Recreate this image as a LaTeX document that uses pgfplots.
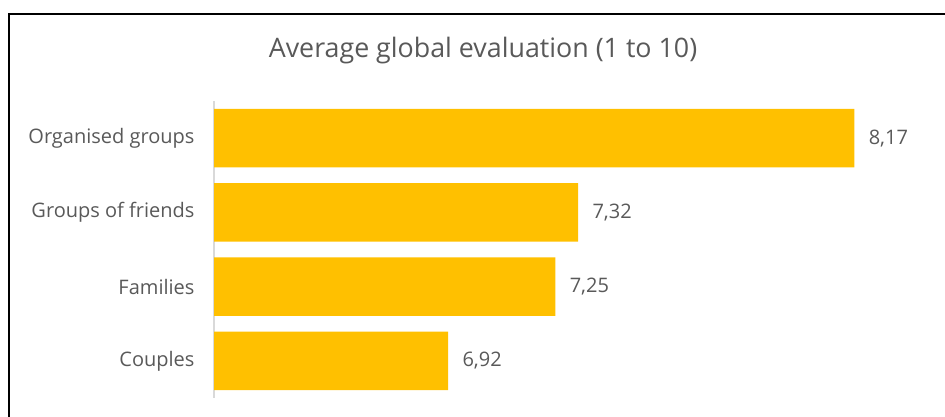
\documentclass[border=0pt]{standalone}
\usepackage{pgfplots}
\pgfplotsset{compat=1.18}
\usepackage{fontspec}
\setmainfont{Open Sans}
\definecolor{barc}{HTML}{FFC000}
\definecolor{txt}{HTML}{595959}
\definecolor{axl}{HTML}{D9D9D9}
\begin{document}
\begin{tikzpicture}
\useasboundingbox (0bp,0bp) rectangle (945bp,417bp);
\draw[line width=1.5bp,black] (8bp,403bp) -- (945bp,403bp);
\draw[line width=1.5bp,black] (9bp,403.75bp) -- (9bp,0bp);
\node[txt,font=\fontsize{26.8bp}{32bp}\selectfont] at (483bp,366bp) {Average global evaluation (1 to 10)};
\begin{axis}[
  at={(214bp,19bp)}, anchor=south west,
  scale only axis, width=715bp, height=297bp,
  xbar, xmin=6.2, xmax=8.4,
  ymin=-0.5, ymax=3.5, y dir=reverse,
  bar width=58.5bp,
  axis x line=none,
  axis y line*=left,
  y axis line style={axl, line width=1.2bp, -},
  ytick={0,1,2,3},
  yticklabels={Organised groups,Groups of friends,Families,Couples},
  major tick length=0pt,
  yticklabel style={txt,font=\fontsize{20bp}{24bp}\selectfont, xshift=-16bp},
  /pgf/number format/assume math mode=true,
  nodes near coords,
  nodes near coords style={txt,font=\fontsize{20bp}{24bp}\selectfont, anchor=west, xshift=11bp,
    /pgf/number format/.cd, fixed, fixed zerofill, precision=2, use comma, assume math mode=true},
  point meta=explicit,
  clip=false,
]
\addplot[fill=barc, draw=none] coordinates {(8.17,0) [8.17] (7.32,1) [7.32] (7.25,2) [7.25] (6.92,3) [6.92]};
\end{axis}
\end{tikzpicture}
\end{document}
